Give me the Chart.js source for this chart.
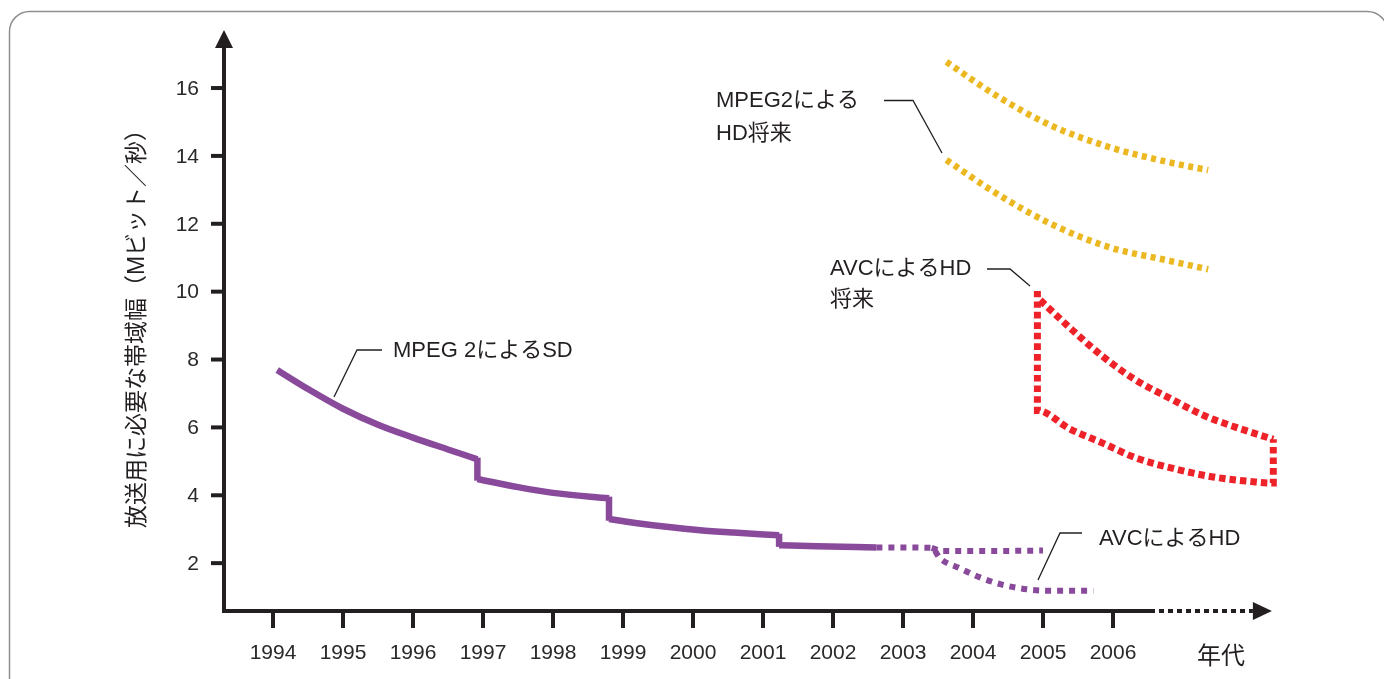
<!DOCTYPE html>
<html>
<head>
<meta charset="utf-8">
<script src="https://cdn.jsdelivr.net/npm/chart.js@4.4.1/dist/chart.umd.min.js"></script>
<style>
  html, body { margin: 0; padding: 0; background: #fff; }
  #wrap { width: 1384px; height: 679px; }
</style>
</head>
<body>
<div id="wrap"><canvas id="chart" width="1384" height="679"></canvas></div>
<script>
// tick labels
const yearTicks = [1994, 1995, 1996, 1997, 1998, 1999, 2000, 2001, 2002, 2003, 2004, 2005, 2006];
const valueTicks = [2, 4, 6, 8, 10, 12, 14, 16];

// MPEG 2 SD (solid), four curved pieces joined by vertical steps
const sdYears1  = [1994.06, 1994.5, 1995, 1995.5, 1996, 1996.5, 1996.92];
const sdValues1 = [7.69,    7.13,   6.55, 6.08,   5.70, 5.35,   5.06];
const sdYears2  = [1996.92, 1997.5, 1998, 1998.8];
const sdValues2 = [4.48,    4.24,   4.07, 3.91];
const sdYears3  = [1998.8, 1999.15, 1999.62, 2000.1, 2000.58, 2001.23];
const sdValues3 = [3.30,   3.19,    3.07,    2.97,   2.90,    2.82];
const sdYears4  = [2001.23, 2001.77, 2002.62];
const sdValues4 = [2.53,    2.50,    2.46];

// AVC HD (dotted purple) - lower branch and upper branch
const avcLowYears  = [2002.62, 2003.0, 2003.41, 2003.53, 2003.81, 2004.1, 2004.39, 2004.77, 2005.05, 2005.72];
const avcLowValues = [2.46,    2.46,   2.45,    2.14,    1.85,    1.58,   1.38,    1.23,    1.19,    1.19];
const avcHighYears  = [2003.41, 2003.55, 2004.3, 2005.0];
const avcHighValues = [2.45,    2.36,    2.36,   2.37];

// MPEG2 HD future (yellow)
const hdFutYears = [2003.62, 2004.33, 2005.1, 2005.93, 2006.76, 2007.36];
const hdFutUpper = [16.77,   15.78,   14.91,  14.27,   13.83,   13.58];
const hdFutLower = [13.88,   12.90,   12.01,  11.32,   10.93,   10.66];

// AVC HD future (red outline)
const avcFutLowYears  = [2004.92, 2004.92, 2005.38, 2005.86, 2006.33, 2006.86, 2007.43, 2008.0, 2008.29, 2008.29];
const avcFutLowValues = [10.02,   6.5,     5.96,    5.53,    5.10,    4.79,    4.54,    4.40,   4.36,    5.65];
const avcFutUpYears   = [2004.96, 2005.37, 2005.86, 2006.33, 2006.81, 2007.29, 2007.76, 2008.29];
const avcFutUpValues  = [9.75,    8.96,    8.08,    7.39,    6.86,    6.36,    6.0,     5.65];

const PURPLE = '#8a4a9b';
const YELLOW = '#ebb821';
const RED = '#ee2229';
const INK = '#231f20';
const FONT = '"Liberation Sans", "Noto Sans CJK JP", sans-serif';

function pts(xs, ys) {
    return xs.map((x, i) => ({ x: x, y: ys[i] }));
}

function series(xs, ys, color, width, dash) {
    return {
        data: pts(xs, ys),
        showLine: true,
        borderColor: color,
        borderWidth: width,
        borderDash: dash,
        borderCapStyle: 'butt',
        borderJoinStyle: 'miter',
        pointRadius: 0,
        cubicInterpolationMode: 'monotone',
        tension: 0.4,
        fill: false,
        clip: false
    };
}

// vertical steps between the SD pieces
function step(x, fromY, toY) {
    return series([x, x], [fromY, toY], PURPLE, 6.5, []);
}

const axesPlugin = {
    id: 'axesPlugin',
    beforeDatasetsDraw(chart) {
        const ctx = chart.ctx;
        const xs = chart.scales.x, ys = chart.scales.y;
        const left = xs.getPixelForValue(xs.min);
        const bottom = ys.getPixelForValue(ys.min);
        const top = ys.getPixelForValue(ys.max);
        const solidEnd = xs.getPixelForValue(2006.6);
        const arrowTip = xs.getPixelForValue(2008.27);

        ctx.save();
        // frame
        ctx.strokeStyle = '#8f8f8f';
        ctx.lineWidth = 1.5;
        ctx.beginPath();
        ctx.roundRect(9.5, 11.5, 1378, 720, 20);
        ctx.stroke();

        ctx.strokeStyle = INK;
        ctx.fillStyle = INK;
        ctx.lineWidth = 4;
        // y axis
        ctx.beginPath();
        ctx.moveTo(left, bottom + 2);
        ctx.lineTo(left, top + 17);
        ctx.stroke();
        ctx.beginPath();
        ctx.moveTo(left, top);
        ctx.lineTo(left - 9, top + 18);
        ctx.lineTo(left + 9, top + 18);
        ctx.closePath();
        ctx.fill();
        // x axis
        ctx.beginPath();
        ctx.moveTo(left - 2, bottom);
        ctx.lineTo(solidEnd, bottom);
        ctx.stroke();
        ctx.save();
        ctx.setLineDash([5, 4]);
        ctx.beginPath();
        ctx.moveTo(solidEnd + 4, bottom);
        ctx.lineTo(arrowTip - 19, bottom);
        ctx.stroke();
        ctx.restore();
        ctx.beginPath();
        ctx.moveTo(arrowTip, bottom);
        ctx.lineTo(arrowTip - 19, bottom - 9);
        ctx.lineTo(arrowTip - 19, bottom + 9);
        ctx.closePath();
        ctx.fill();

        // ticks
        valueTicks.forEach(v => {
            const y = ys.getPixelForValue(v);
            ctx.beginPath();
            ctx.moveTo(left - 13, y);
            ctx.lineTo(left, y);
            ctx.stroke();
        });
        yearTicks.forEach(v => {
            const x = xs.getPixelForValue(v);
            ctx.beginPath();
            ctx.moveTo(x, bottom);
            ctx.lineTo(x, bottom + 17);
            ctx.stroke();
        });

        // tick labels
        ctx.fillStyle = '#2b2829';
        ctx.font = '21px ' + FONT;
        ctx.textBaseline = 'middle';
        ctx.textAlign = 'right';
        valueTicks.forEach(v => {
            ctx.fillText(String(v), left - 25, ys.getPixelForValue(v) + 1);
        });
        ctx.textAlign = 'center';
        yearTicks.forEach(v => {
            ctx.fillText(String(v), xs.getPixelForValue(v), bottom + 42);
        });

        // axis titles
        ctx.fillStyle = INK;
        ctx.font = '24px ' + FONT;
        ctx.textAlign = 'left';
        ctx.fillText('年代', 1197, bottom + 46);

        ctx.save();
        ctx.translate(138, 323);
        ctx.rotate(-Math.PI / 2);
        ctx.font = '23px ' + FONT;
        ctx.textAlign = 'center';
        ctx.fillText('放送用に必要な帯域幅（Mビット／秒）', 0, 0);
        ctx.restore();

        // annotations
        ctx.font = '22px ' + FONT;
        ctx.textBaseline = 'alphabetic';
        ctx.textAlign = 'left';
        ctx.fillText('MPEG 2によるSD', 393, 357);
        ctx.fillText('MPEG2による', 716, 107);
        ctx.fillText('HD将来', 716, 140);
        ctx.fillText('AVCによるHD', 830, 275);
        ctx.fillText('将来', 830, 306);
        ctx.fillText('AVCによるHD', 1099, 545);

        ctx.lineWidth = 1.3;
        const leaders = [
            [[382, 350], [357, 350], [334, 397]],
            [[884, 100.5], [913, 100.5], [942, 153]],
            [[987, 269], [1010, 269], [1030, 286]],
            [[1082, 533], [1060, 533], [1038, 580]]
        ];
        leaders.forEach(l => {
            ctx.beginPath();
            ctx.moveTo(l[0][0], l[0][1]);
            for (let i = 1; i < l.length; i++) ctx.lineTo(l[i][0], l[i][1]);
            ctx.stroke();
        });
        ctx.restore();
    }
};

new Chart(document.getElementById('chart'), {
    type: 'scatter',
    data: {
        datasets: [
            series(sdYears1, sdValues1, PURPLE, 6.5, []),
            step(1996.92, 5.06 + 0.05, 4.48 - 0.05),
            series(sdYears2, sdValues2, PURPLE, 6.5, []),
            step(1998.8, 3.91 + 0.05, 3.30 - 0.05),
            series(sdYears3, sdValues3, PURPLE, 6.5, []),
            step(2001.23, 2.82 + 0.05, 2.53 - 0.05),
            series(sdYears4, sdValues4, PURPLE, 6.5, []),
            series(avcLowYears, avcLowValues, PURPLE, 6, [6, 6]),
            series(avcHighYears, avcHighValues, PURPLE, 6, [6, 6]),
            series(hdFutYears, hdFutUpper, YELLOW, 6.5, [5, 4.5]),
            series(hdFutYears, hdFutLower, YELLOW, 6.5, [5, 4.5]),
            series(avcFutLowYears, avcFutLowValues, RED, 7, [6.5, 4]),
            series(avcFutUpYears, avcFutUpValues, RED, 7, [6.5, 4])
        ]
    },
    options: {
        responsive: false,
        animation: false,
        layout: { padding: { left: 224, top: 30, right: 103, bottom: 68 } },
        scales: {
            x: { type: 'linear', min: 1993.3, max: 2008.4, display: false },
            y: { type: 'linear', min: 0.59, max: 17.71, display: false }
        },
        plugins: {
            legend: { display: false },
            tooltip: { enabled: false }
        }
    },
    plugins: [axesPlugin]
});
</script>
</body>
</html>
